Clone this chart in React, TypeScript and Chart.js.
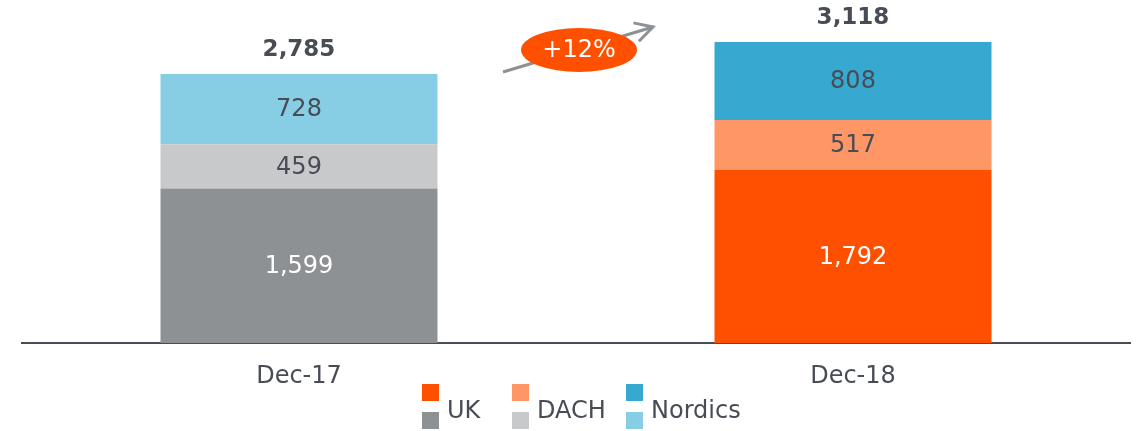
import React, { useEffect, useRef } from "react";
import { Chart, registerables } from "chart.js";

Chart.register(...registerables);

const categories = ["Dec-17", "Dec-18"];
const seriesNames = ["UK", "DACH", "Nordics"];
const ukValues = [1599, 1792];
const dachValues = [459, 517];
const nordicsValues = [728, 808];
const totals = [2785, 3118];
const growthLabel = "+12%";

const ukColors = ["#8e9193", "#ff5000"];
const dachColors = ["#c8c9cb", "#ff9666"];
const nordicsColors = ["#87cde4", "#37a9d1"];
const labelColors = ["#ffffff", "#474c55", "#474c55"];

const TEXT = "#474c55";
const FONT = "'DejaVu Sans', Verdana, sans-serif";

const fmt = (v: number) => v.toLocaleString("en-US");

const overlayPlugin = {
  id: "overlay",
  afterDatasetsDraw(chart: any) {
    const ctx = chart.ctx;
    ctx.save();
    ctx.textAlign = "center";
    ctx.textBaseline = "middle";
    // segment labels
    chart.data.datasets.forEach((ds: any, di: number) => {
      const meta = chart.getDatasetMeta(di);
      meta.data.forEach((el: any, i: number) => {
        const y = (el.y + el.base) / 2;
        ctx.fillStyle = labelColors[di];
        ctx.font = `24px ${FONT}`;
        ctx.fillText(fmt(ds.data[i]), el.x, y + 1);
      });
    });
    // totals
    const top = chart.getDatasetMeta(chart.data.datasets.length - 1);
    top.data.forEach((el: any, i: number) => {
      ctx.fillStyle = TEXT;
      ctx.font = `bold 23px ${FONT}`;
      ctx.fillText(fmt(totals[i]), el.x, el.y - 24);
    });

    // growth arrow
    const ax0 = 503, ay0 = 72, ax1 = 653, ay1 = 27;
    ctx.strokeStyle = "#8e9193";
    ctx.lineWidth = 3;
    ctx.lineCap = "butt";
    ctx.beginPath();
    ctx.moveTo(ax0, ay0);
    ctx.lineTo(ax1, ay1);
    ctx.stroke();
    const ang = Math.atan2(ay1 - ay0, ax1 - ax0);
    const hl = 20;
    ctx.beginPath();
    ctx.moveTo(ax1 - hl * Math.cos(ang - 0.5), ay1 - hl * Math.sin(ang - 0.5));
    ctx.lineTo(ax1, ay1);
    ctx.lineTo(ax1 - hl * Math.cos(ang + 0.5), ay1 - hl * Math.sin(ang + 0.5));
    ctx.stroke();

    // ellipse
    ctx.fillStyle = "#ff5000";
    ctx.beginPath();
    ctx.ellipse(579, 50, 58, 22, 0, 0, Math.PI * 2);
    ctx.fill();
    ctx.fillStyle = "#ffffff";
    ctx.font = `24px ${FONT}`;
    ctx.fillText(growthLabel, 579, 51);

    // legend
    const legendX = [422, 512, 626];
    const topColors = [ukColors[1], dachColors[1], nordicsColors[1]];
    const botColors = [ukColors[0], dachColors[0], nordicsColors[0]];
    ctx.textAlign = "left";
    seriesNames.forEach((name, i) => {
      ctx.fillStyle = topColors[i];
      ctx.fillRect(legendX[i], 384, 17, 17);
      ctx.fillStyle = botColors[i];
      ctx.fillRect(legendX[i], 412, 17, 17);
      ctx.fillStyle = TEXT;
      ctx.font = `24px ${FONT}`;
      ctx.fillText(name, legendX[i] + 25, 412);
    });
    ctx.restore();
  },
};

export default function App() {
  const ref = useRef<HTMLCanvasElement>(null);
  useEffect(() => {
    const chart = new Chart(ref.current as HTMLCanvasElement, {
      type: "bar",
      data: {
        labels: categories,
        datasets: [
          { label: seriesNames[0], data: ukValues, backgroundColor: ukColors },
          { label: seriesNames[1], data: dachValues, backgroundColor: dachColors },
          { label: seriesNames[2], data: nordicsValues, backgroundColor: nordicsColors },
        ],
      },
      options: {
        responsive: false,
        animation: false,
        layout: { padding: { left: 22, right: 15, top: 5, bottom: 0 } },
        datasets: { bar: { categoryPercentage: 1, barPercentage: 0.5 } },
        plugins: { legend: { display: false }, tooltip: { enabled: false } },
        scales: {
          x: {
            stacked: true,
            grid: { display: false, drawTicks: false },
            border: { display: true, color: TEXT, width: 2 },
            ticks: { color: TEXT, font: { family: FONT, size: 24 }, padding: 19 },
            afterFit: (scale: any) => {
              scale.height = 88;
            },
          },
          y: {
            stacked: true,
            display: false,
            min: 0,
            max: 3500,
          },
        },
      },
      plugins: [overlayPlugin],
    } as any);
    return () => chart.destroy();
  }, []);
  return (
    <div style={{ position: "fixed", left: 0, top: 0, width: 1145, height: 431, background: "#fff" }}>
      <canvas ref={ref} width={1145} height={431} />
    </div>
  );
}
